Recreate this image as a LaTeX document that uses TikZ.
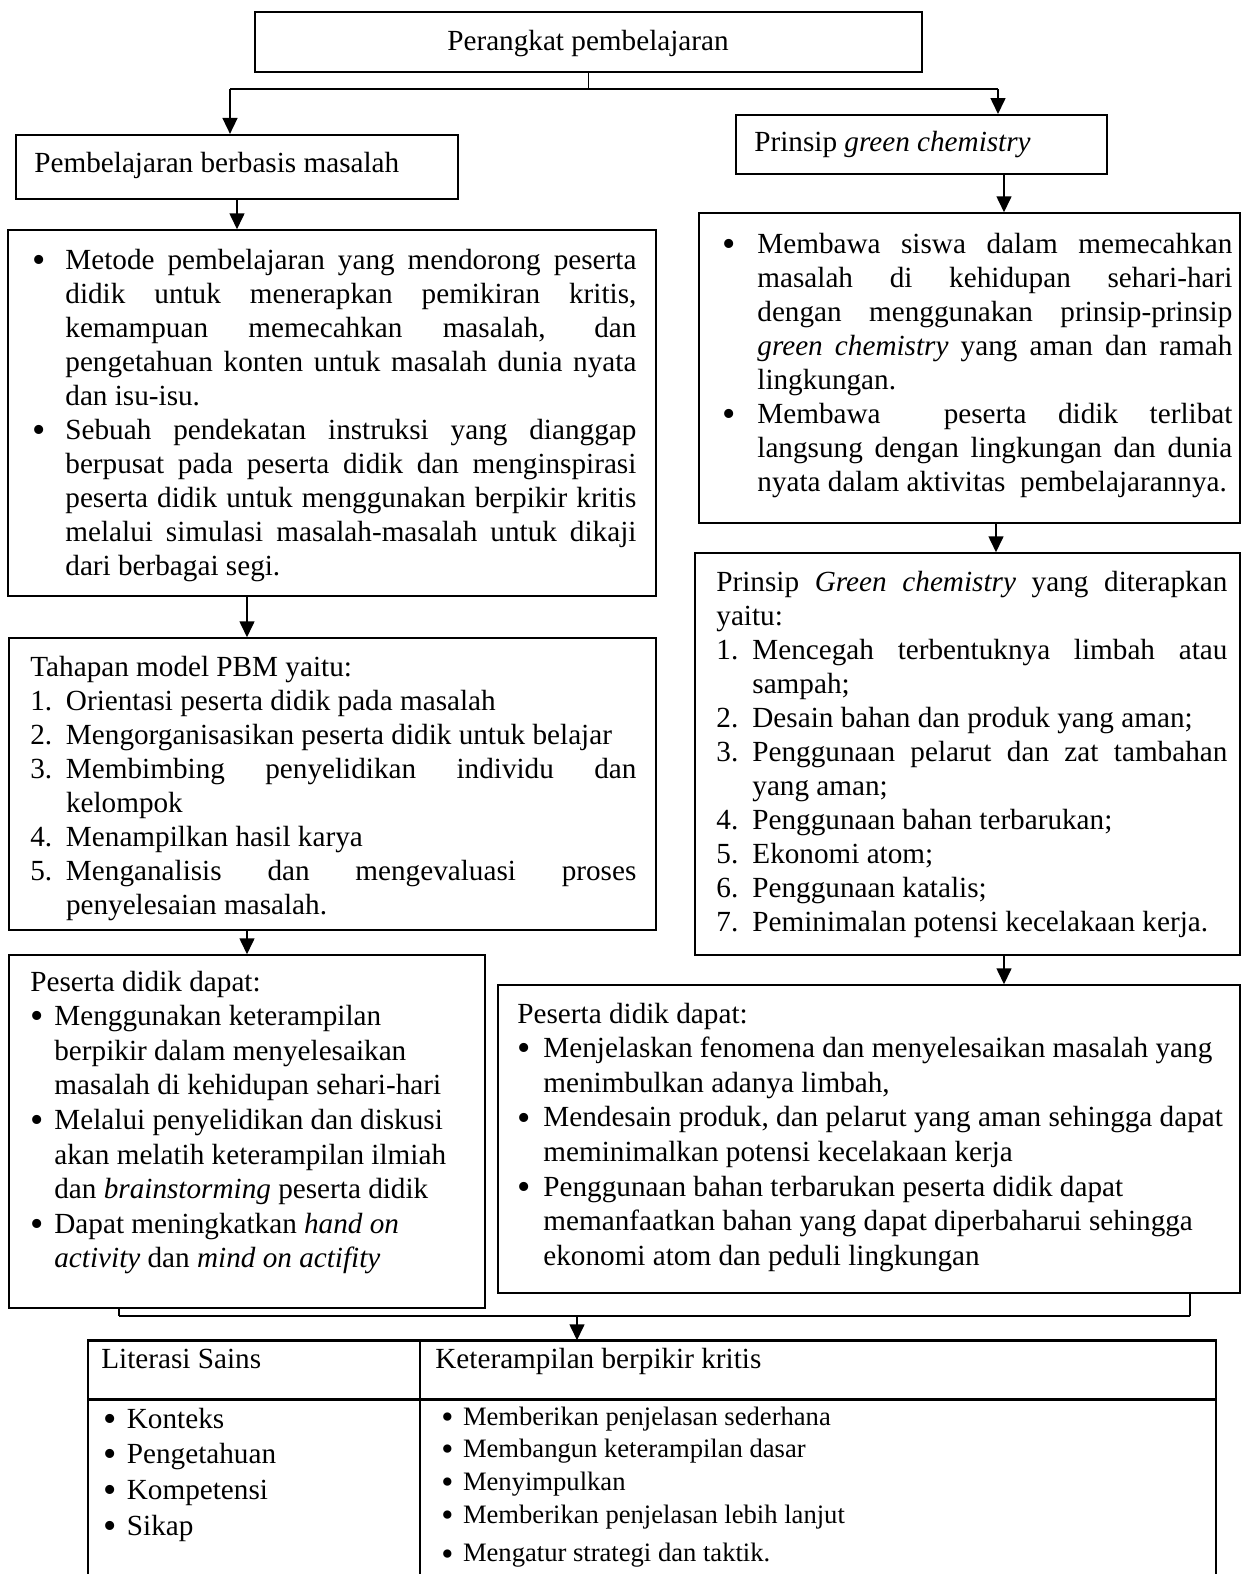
\documentclass[tikz,border=0pt]{standalone}
\usepackage{graphicx}
\usepackage{fontspec}
\setmainfont{Liberation Serif}
\usetikzlibrary{arrows.meta,fit}

% justified line inside a list item or paragraph
\newcommand{\jl}[1]{\makebox[\linewidth][s]{#1}\\}
\newcommand{\bul}{\raisebox{-1.6pt}{\scalebox{1.3}{\textbullet}}}
% bullet list and numbered list with a hanging label
\newenvironment{blist}[1]{%
  \begin{list}{\bul}{\setlength{\leftmargin}{#1}\setlength{\labelwidth}{#1}%
    \setlength{\labelsep}{0pt}\setlength{\itemsep}{0pt}\setlength{\parsep}{0pt}%
    \setlength{\topsep}{0pt}\setlength{\partopsep}{0pt}%
    \def\makelabel##1{##1\hfil}}}{\end{list}}
\newenvironment{nlist}[1]{%
  \begin{list}{\arabic{enumi}.}{\usecounter{enumi}\setlength{\leftmargin}{#1}\setlength{\labelwidth}{#1}%
    \setlength{\labelsep}{0pt}\setlength{\itemsep}{0pt}\setlength{\parsep}{0pt}%
    \setlength{\topsep}{0pt}\setlength{\partopsep}{0pt}%
    \def\makelabel##1{##1\hfil}}}{\end{list}}

\begin{document}
\begin{tikzpicture}[x=0.5pt, y=-0.5pt,
  box/.style={draw, line width=0.75pt, inner sep=0pt},
  txt/.style={inner sep=0pt, anchor=base west, font=\fontsize{14.6}{17}\selectfont},
  arr/.style={line width=0.8pt, -{Triangle[length=8pt,width=7.5pt]}},
  stem/.style={line width=0.6pt},
  link/.style={line width=1.3pt}]
\useasboundingbox (0,0) rectangle (1244,1574);
\clip (0,0) rectangle (1244,1574);

% Top row
\node[box, line width=1pt, fit={(255,12) (922,72)}] (perangkat) {};
\node[txt, anchor=base] (perangkattxt) at (588,50) {Perangkat pembelajaran};
\node[box, line width=1.1pt, fit={(16,135) (458,199)}] (pbm) {};
\node[txt] (pbmtxt) at (34,172) {Pembelajaran berbasis masalah};
\node[box, line width=1pt, fit={(736,115) (1107,174)}] (gc) {};
\node[txt] (gctxt) at (754,151) {Prinsip \textit{green chemistry}};

% Left column
\node[box, fit={(8,230) (656,596)}] (pbmdesc) {};
\node[txt] (pbmdesctxt) at (32,269) {\begin{minipage}[t]{302pt}\begin{blist}{16.5pt}
\item \jl{Metode pembelajaran yang mendorong peserta}
\jl{didik untuk menerapkan pemikiran kritis,}
\jl{kemampuan memecahkan masalah, dan}
\jl{pengetahuan konten untuk masalah dunia nyata}
dan isu-isu.
\item \jl{Sebuah pendekatan instruksi yang dianggap}
\jl{berpusat pada peserta didik dan menginspirasi}
\jl{peserta didik untuk menggunakan berpikir kritis}
\jl{melalui simulasi masalah-masalah untuk dikaji}
dari berbagai segi.
\end{blist}\end{minipage}};

\node[box, fit={(9,638) (656,930)}] (pbmsteps) {};
\node[txt] (pbmstepstxt) at (30,676) {\begin{minipage}[t]{303pt}Tahapan model PBM yaitu:
\begin{nlist}{17.8pt}
\item Orientasi peserta didik pada masalah
\item Mengorganisasikan peserta didik untuk belajar
\item \jl{Membimbing penyelidikan individu dan}
kelompok
\item Menampilkan hasil karya
\item \jl{Menganalisis dan mengevaluasi proses}
penyelesaian masalah.
\end{nlist}\end{minipage}};

\node[box, fit={(9,955) (485,1308)}] (pbmout) {};
\node[txt, font=\fontsize{14.6}{17.3}\selectfont] (pbmouttxt) at (30,991) {\begin{minipage}[t]{225pt}Peserta didik dapat:
\begin{blist}{12pt}
\item Menggunakan keterampilan\\
berpikir dalam menyelesaikan\\
masalah di kehidupan sehari-hari
\item Melalui penyelidikan dan diskusi\\
akan melatih keterampilan ilmiah\\
dan \textit{brainstorming} peserta didik
\item Dapat meningkatkan \textit{hand on}\\
\textit{activity} dan \textit{mind on actifity}
\end{blist}\end{minipage}};

% Right column
\node[box, fit={(699,213) (1240,523)}] (gcdesc) {};
\node[txt] (gcdesctxt) at (722,253) {\begin{minipage}[t]{255pt}\begin{blist}{17.5pt}
\item \jl{Membawa siswa dalam memecahkan}
\jl{masalah di kehidupan sehari-hari}
\jl{dengan menggunakan prinsip-prinsip}
\jl{\textit{green chemistry} yang aman dan ramah}
lingkungan.
\item \jl{Membawa\ \ peserta didik terlibat}
\jl{langsung dengan lingkungan dan dunia}
nyata dalam aktivitas\ \ pembelajarannya.
\end{blist}\end{minipage}};

\node[box, fit={(695,553) (1240,955)}] (gcsteps) {};
\node[txt] (gcstepstxt) at (716,591) {\begin{minipage}[t]{255.5pt}\jl{Prinsip \textit{Green chemistry} yang diterapkan}
yaitu:
\begin{nlist}{18pt}
\item \jl{Mencegah terbentuknya limbah atau}
sampah;
\item Desain bahan dan produk yang aman;
\item \jl{Penggunaan pelarut dan zat tambahan}
yang aman;
\item Penggunaan bahan terbarukan;
\item Ekonomi atom;
\item Penggunaan katalis;
\item Peminimalan potensi kecelakaan kerja.
\end{nlist}\end{minipage}};

\node[box, fit={(498,985) (1240,1293)}] (gcout) {};
\node[txt, font=\fontsize{14.6}{17.3}\selectfont] (gcouttxt) at (517,1023) {\begin{minipage}[t]{365pt}Peserta didik dapat:
\begin{blist}{13pt}
\item Menjelaskan fenomena dan menyelesaikan masalah yang\\
menimbulkan adanya limbah,
\item Mendesain produk, dan pelarut yang aman sehingga dapat\\
meminimalkan potensi kecelakaan kerja
\item Penggunaan bahan terbarukan peserta didik dapat\\
memanfaatkan bahan yang dapat diperbaharui sehingga\\
ekonomi atom dan peduli lingkungan
\end{blist}\end{minipage}};

% Table
\node[box, fit={(88,1341) (1216,1620)}] (tbl) {};
\coordinate (hrow) at (0,1399);
\coordinate (vcol) at (420,0);
\draw[line width=1.5pt] (tbl.north west) -- (tbl.north east);
\draw[line width=1.5pt] (tbl.west |- hrow) -- (tbl.east |- hrow);
\draw[line width=0.75pt] (tbl.north -| vcol) -- (tbl.south -| vcol);
\node[txt] (lit) at (101,1368) {Literasi Sains};
\node[txt] (kbk) at (435,1368) {Keterampilan berpikir kritis};
\node[txt, font=\fontsize{14.6}{17.85}\selectfont] (littxt) at (103,1428) {\begin{minipage}[t]{150pt}\begin{blist}{11.75pt}
\item Konteks
\item Pengetahuan
\item Kompetensi
\item Sikap
\end{blist}\end{minipage}};
\node[txt, font=\fontsize{13.3}{16.35}\selectfont] (kbktxt) at (441,1425) {\begin{minipage}[t]{360pt}\begin{blist}{10.8pt}
\item Memberikan penjelasan sederhana
\item Membangun keterampilan dasar
\item Menyimpulkan
\item Memberikan penjelasan lebih lanjut
\par\vspace{3pt}
\item Mengatur strategi dan taktik.
\end{blist}\end{minipage}};

% Connectors
\coordinate (jl) at (230,89);
\coordinate (jr) at (998,89);
\coordinate (xl) at (247,0);
\coordinate (xg1) at (1004,0);
\coordinate (xg2) at (996,0);
\coordinate (bl) at (119,1316);
\coordinate (br) at (1190,1316);
\coordinate (bm) at (577,1316);
\draw[stem] (perangkat.south) -- (perangkat.south |- jl);
\draw[link] (jl) -- (jr);
\draw[arr] (jl) -- (jl |- pbm.north);
\draw[arr] (jr) -- (jr |- gc.north);
\draw[arr] (pbm.south) -- (pbm.south |- pbmdesc.north);
\draw[arr] (gc.south -| xg1) -- (gcdesc.north -| xg1);
\draw[arr] (pbmdesc.south -| xl) -- (pbmsteps.north -| xl);
\draw[arr] (gcdesc.south -| xg2) -- (gcsteps.north -| xg2);
\draw[arr] (pbmsteps.south -| xl) -- (pbmout.north -| xl);
\draw[arr] (gcsteps.south -| xg1) -- (gcout.north -| xg1);
\draw[stem] (pbmout.south -| bl) -- (bl);
\draw[stem] (gcout.south -| br) -- (br);
\draw[link] (bl) -- (br);
\draw[arr] (bm) -- (bm |- tbl.north);
\end{tikzpicture}
\end{document}
